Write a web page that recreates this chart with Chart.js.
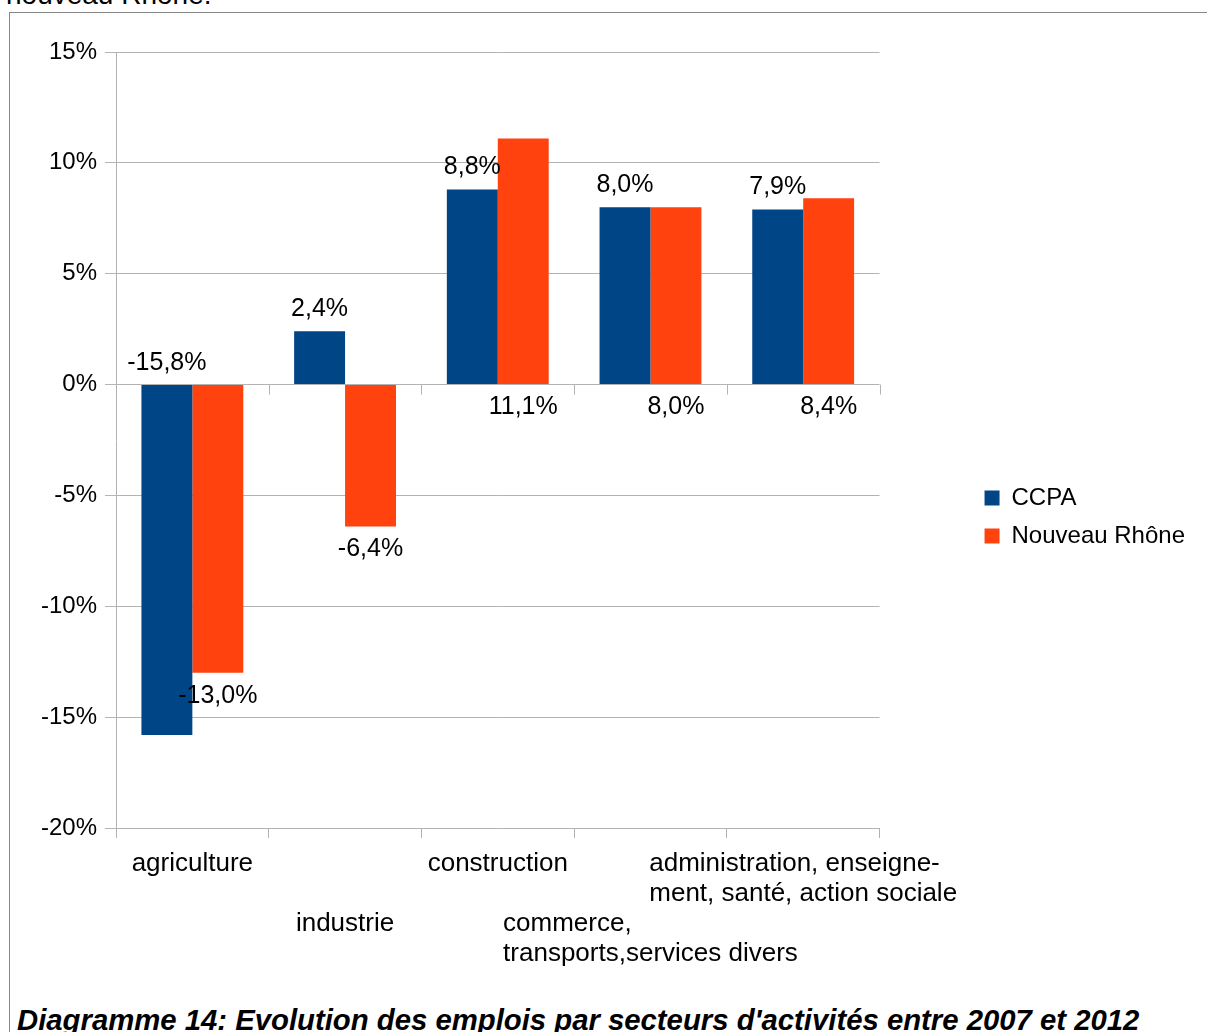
<!DOCTYPE html>
<html>
<head>
<meta charset="utf-8">
<script src="https://cdn.jsdelivr.net/npm/chart.js@4/dist/chart.umd.min.js"></script>
<style>
  body { margin: 0; background: #fff; width: 1207px; height: 1032px; overflow: hidden; position: relative; font-family: "Liberation Sans", Arial, sans-serif; }
  #above { position: absolute; left: 6px; top: -19px; font-size: 28px; line-height: 28px; color: #000; white-space: nowrap; }
  #frame { position: absolute; left: 9px; top: 12px; width: 1300px; height: 1100px; border-left: 1px solid #888; border-top: 1px solid #888; }
  #chart { position: absolute; left: 10px; top: 14px; }
  #caption { position: absolute; left: 17px; top: 1005px; font-size: 29.3px; line-height: 29px; font-weight: bold; font-style: italic; white-space: nowrap; color: #000; }
</style>
</head>
<body>
<div id="above">nouveau Rhône.</div>
<div id="frame"></div>
<canvas id="chart" width="1197" height="968"></canvas>
<div id="caption">Diagramme 14: Evolution des emplois par secteurs d'activités entre 2007 et 2012</div>
<script>
// categories (each one split into its displayed lines)
const categories = [
    ['agriculture'],
    ['industrie'],
    ['construction'],
    ['commerce,', 'transports,services divers'],
    ['administration, enseigne-', 'ment, santé, action sociale']
];
const ccpaValues = [-15.8, 2.4, 8.8, 8.0, 7.9];
const rhoneValues = [-13.0, -6.4, 11.1, 8.0, 8.4];
const yTicks = [-20, -15, -10, -5, 0, 5, 10, 15];

const FONT = '"Liberation Sans", Arial, sans-serif';
const GRID = '#b3b3b3';

function fmt(v) {
    return v.toFixed(1).replace('.', ',') + '%';
}

// value labels: CCPA above the top of its bar, Nouveau Rhône below the bottom of its bar
const valueLabels = {
    id: 'valueLabels',
    afterDatasetsDraw(chart) {
        const ctx = chart.ctx;
        ctx.save();
        ctx.font = '25px ' + FONT;
        ctx.fillStyle = '#000';
        ctx.textAlign = 'center';
        ctx.textBaseline = 'middle';
        chart.data.datasets.forEach((ds, di) => {
            chart.getDatasetMeta(di).data.forEach((bar, i) => {
                let y;
                if (di === 0) {
                    y = Math.min(bar.y, bar.base) - 22;
                } else {
                    y = Math.max(bar.y, bar.base) + 23;
                }
                ctx.fillText(fmt(ds.data[i]), bar.x, y);
            });
        });
        ctx.restore();
    }
};

// x axis: tick marks on the zero line + staggered category labels
const categoryAxis = {
    id: 'categoryAxis',
    beforeDatasetsDraw(chart) {
        const xs = chart.scales.x, ys = chart.scales.y;
        const ctx = chart.ctx;
        const y0 = ys.getPixelForValue(0);
        const step = xs.width / categories.length;
        ctx.save();
        ctx.strokeStyle = GRID;
        ctx.lineWidth = 1;
        for (let i = 0; i <= categories.length; i++) {
            const x = Math.round(xs.left + i * step) + 0.5;
            ctx.beginPath();
            ctx.moveTo(x, y0);
            ctx.lineTo(x, y0 + 10);
            ctx.stroke();
        }
        ctx.restore();
    },
    afterDraw(chart) {
        const xs = chart.scales.x;
        const ctx = chart.ctx;
        const lineH = 30;
        const top = chart.chartArea.bottom + 36;
        // odd labels go below the tallest even label
        let evenLines = 0;
        categories.forEach((c, i) => { if (i % 2 === 0) evenLines = Math.max(evenLines, c.length); });
        ctx.save();
        ctx.font = '26px ' + FONT;
        ctx.fillStyle = '#000';
        ctx.textAlign = 'left';
        ctx.textBaseline = 'middle';
        categories.forEach((lines, i) => {
            const cx = xs.getPixelForValue(i);
            const w = Math.max(...lines.map(l => ctx.measureText(l).width));
            const row = i % 2 === 0 ? 0 : evenLines;
            lines.forEach((l, k) => {
                ctx.fillText(l, cx - w / 2, top + (row + k) * lineH);
            });
        });
        ctx.restore();
    }
};

// the layout caps side boxes at a fraction of the width; give the legend room for its text
const wideLegend = {
    id: 'wideLegend',
    afterInit(chart) {
        const lg = chart.legend;
        const fit = lg.fit;
        lg.fit = function () {
            this.maxWidth = Math.max(this.maxWidth, 300);
            fit.call(this);
        };
    }
};

new Chart(document.getElementById('chart'), {
    type: 'bar',
    data: {
        labels: categories.map(c => c.join(' ')),
        datasets: [{
            label: 'CCPA',
            data: ccpaValues,
            backgroundColor: '#004586',
            borderWidth: 0,
            categoryPercentage: 0.667,
            barPercentage: 1.0
        }, {
            label: 'Nouveau Rhône',
            data: rhoneValues,
            backgroundColor: '#ff420e',
            borderWidth: 0,
            categoryPercentage: 0.667,
            barPercentage: 1.0
        }]
    },
    options: {
        responsive: false,
        animation: false,
        devicePixelRatio: 1,
        layout: { padding: { top: 38, right: 12, left: 0, bottom: 0 } },
        scales: {
            x: {
                offset: true,
                grid: {
                    offset: true,
                    drawOnChartArea: true,
                    drawTicks: true,
                    tickLength: 10,
                    tickColor: GRID,
                    color: (c) => c.index === categories.length ? GRID : 'rgba(0,0,0,0)'
                },
                border: { display: false },
                ticks: { display: false },
                afterFit: (s) => { s.height = 154; }
            },
            y: {
                min: yTicks[0],
                max: yTicks[yTicks.length - 1],
                afterBuildTicks: (s) => { s.ticks = yTicks.map(v => ({ value: v })); },
                grid: { color: GRID, tickLength: 11 },
                border: { display: true, color: GRID },
                ticks: {
                    color: '#000',
                    padding: 8,
                    font: { family: FONT, size: 24 },
                    callback: (v) => v + '%'
                },
                afterFit: (s) => { s.width = 106; }
            },
            spacer: {
                type: 'linear',
                position: 'right',
                display: true,
                grid: { display: false },
                border: { display: false },
                ticks: { display: false },
                afterFit: (s) => { s.width = 91; }
            }
        },
        plugins: {
            legend: {
                position: 'right',
                labels: {
                    color: '#000',
                    boxWidth: 15,
                    boxHeight: 15,
                    padding: 14,
                    font: { family: FONT, size: 24 }
                }
            },
            tooltip: { enabled: false }
        }
    },
    plugins: [valueLabels, categoryAxis, wideLegend]
});
</script>
</body>
</html>
